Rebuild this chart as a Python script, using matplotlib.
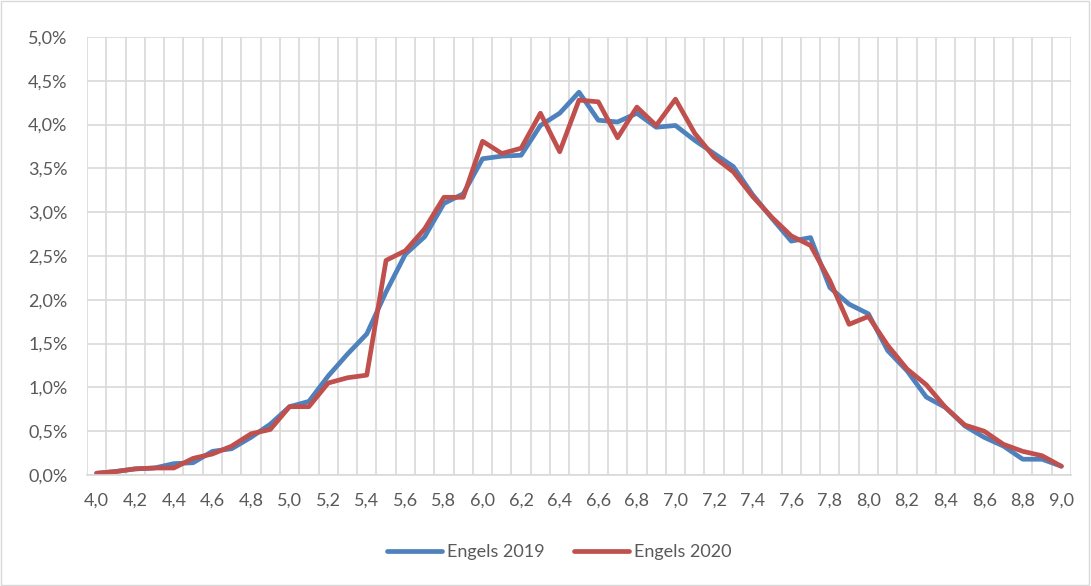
import matplotlib
matplotlib.use("Agg")
import matplotlib.pyplot as plt
from matplotlib.patches import Rectangle
from matplotlib.ticker import FuncFormatter, MultipleLocator, FixedLocator

# categories 4,0 .. 9,0
categories = [f"{(40 + i) / 10:.1f}".replace(".", ",") for i in range(51)]

engels_2019 = [0.02, 0.04, 0.07, 0.08, 0.13, 0.14, 0.27, 0.30, 0.43, 0.58,
               0.78, 0.84, 1.13, 1.38, 1.61, 2.09, 2.52, 2.72, 3.10, 3.21,
               3.61, 3.64, 3.65, 3.99, 4.13, 4.37, 4.05, 4.03, 4.13, 3.97,
               3.99, 3.82, 3.67, 3.52, 3.20, 2.93, 2.67, 2.71, 2.14, 1.95,
               1.84, 1.42, 1.19, 0.89, 0.77, 0.56, 0.43, 0.33, 0.18, 0.18,
               0.10]
engels_2020 = [0.02, 0.04, 0.07, 0.08, 0.08, 0.19, 0.24, 0.33, 0.47, 0.52,
               0.78, 0.78, 1.05, 1.11, 1.14, 2.45, 2.56, 2.81, 3.17, 3.17,
               3.81, 3.67, 3.73, 4.13, 3.69, 4.28, 4.26, 3.85, 4.20, 3.99,
               4.29, 3.90, 3.63, 3.46, 3.18, 2.94, 2.73, 2.62, 2.22, 1.72,
               1.81, 1.48, 1.21, 1.03, 0.77, 0.57, 0.50, 0.35, 0.27, 0.22,
               0.10]
series_names = ["Engels 2019", "Engels 2020"]
colors = ["#4F81BD", "#C0504D"]

text_color = "#595959"
grid_color = "#D9D9D9"
plt.rcParams["font.family"] = ["Lato", "DejaVu Sans"]

fig = plt.figure(figsize=(10.91, 5.86), dpi=100)
ax = fig.add_axes([87 / 1091, 1 - 475 / 586, (1071 - 87) / 1091, (475 - 37) / 586])

x = list(range(len(categories)))
for vals, name, c in zip([engels_2019, engels_2020], series_names, colors):
    ax.plot(x, vals, color=c, lw=3.4, label=name, solid_joinstyle="round",
            solid_capstyle="round")

ax.set_xlim(-0.5, len(categories) - 0.5)
ax.set_ylim(0, 5)
ax.yaxis.set_major_locator(MultipleLocator(0.5))
ax.yaxis.set_major_formatter(FuncFormatter(lambda v, p: f"{v:.1f}%".replace(".", ",")))

ax.set_xticks(x[::2])
ax.set_xticklabels(categories[::2])
ax.xaxis.set_minor_locator(FixedLocator([i - 0.5 for i in range(len(categories) + 1)]))
ax.grid(True, which="minor", axis="x", color=grid_color, lw=1.2)
ax.grid(True, which="major", axis="y", color=grid_color, lw=1.2)
ax.set_axisbelow(True)

for s in ax.spines.values():
    s.set_visible(False)
ax.spines["bottom"].set_visible(True)
ax.spines["bottom"].set_color(grid_color)
ax.spines["bottom"].set_linewidth(1.2)

ax.tick_params(axis="both", which="both", length=0, labelsize=13, colors=text_color)
ax.tick_params(axis="x", pad=13)
ax.tick_params(axis="y", pad=14)

fig.legend(loc="center", bbox_to_anchor=(559 / 1091, 1 - 552 / 586), ncol=2,
           frameon=False, fontsize=13, labelcolor=text_color, handlelength=3.1,
           handletextpad=0.25, columnspacing=1.6)

fig.patches.append(Rectangle((0.0005, 0.001), 0.998, 0.997, transform=fig.transFigure,
                             fill=False, edgecolor="#D9D9D9", lw=1))

fig.savefig("out.png", dpi=100)
